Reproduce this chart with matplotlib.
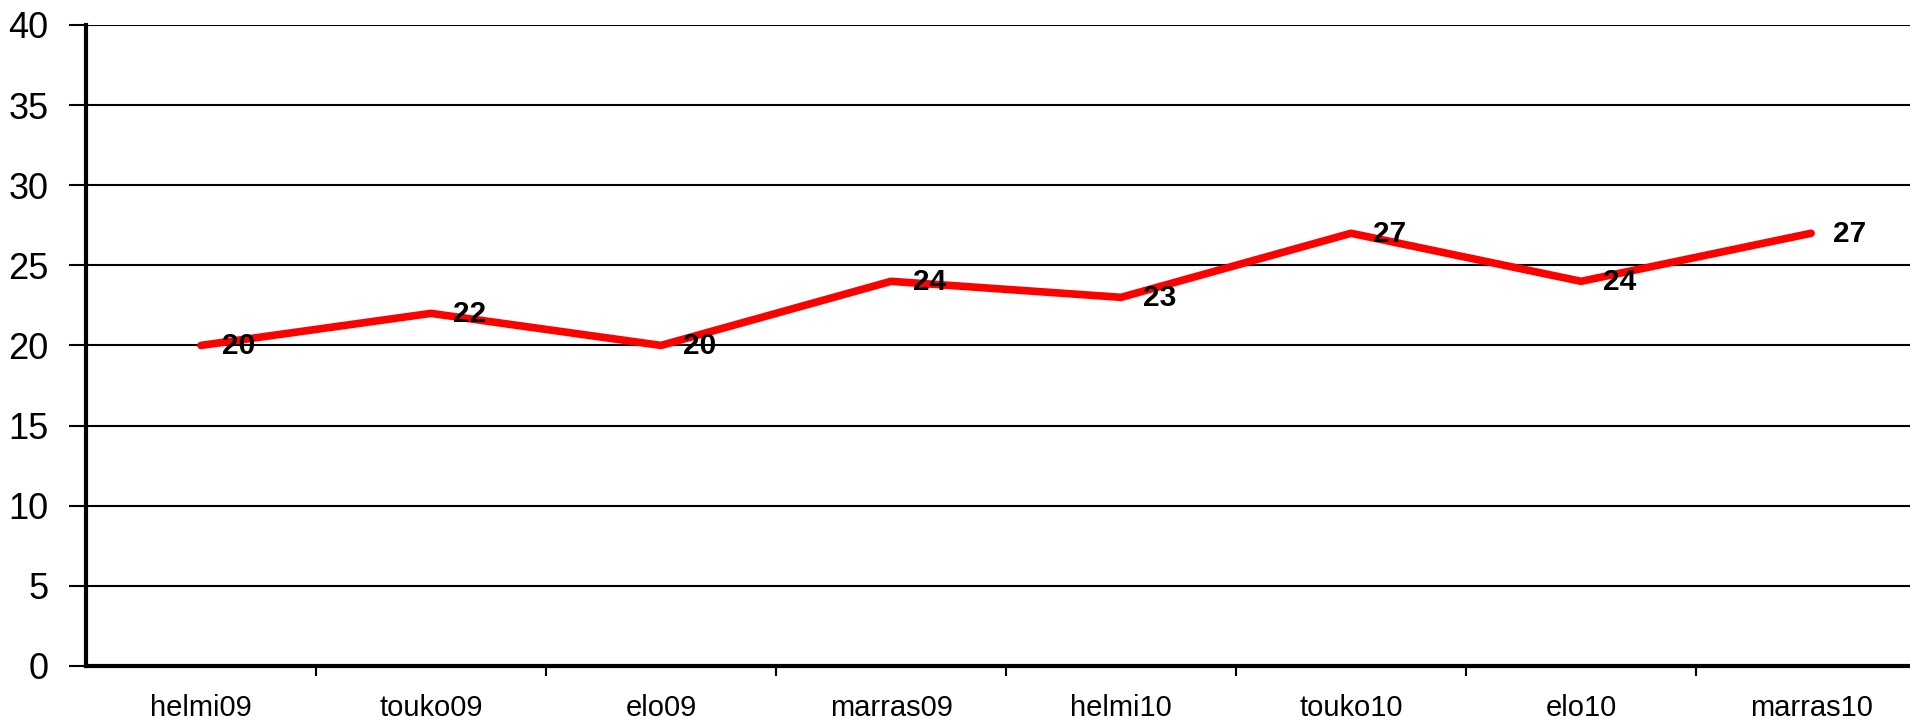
import numpy             as np
import matplotlib.pyplot as plt

months = ["helmi09", "touko09", "elo09", "marras09", "helmi10", "touko10", "elo10", "marras10"]
values = [20, 22, 20, 24, 23, 27, 24, 27]
yticks = [0, 5, 10, 15, 20, 25, 30, 35, 40]

plt.rcParams['font.family'] = ['Liberation Sans', 'DejaVu Sans']

fig = plt.figure(figsize=(19.10, 7.23), dpi=100)
ax = fig.add_axes([0.045, 0.079, 0.955, 0.8865])

x = np.arange(len(months))
ax.plot(x, values, color="#ff0000", lw=5.5, solid_capstyle="round",
        solid_joinstyle="round", zorder=3)
for xi, v in zip(x, values):
    ax.annotate(str(v), (xi, v), xytext=(15.5, -0.5), textcoords="offset points",
                ha="left", va="center", fontsize=21.5, fontweight="bold", zorder=4)

ax.set_ylim(0, 40)
ax.set_xlim(-0.5, 7.43)
ax.set_yticks(yticks)
ax.yaxis.grid(True, color="black", lw=1.5)
ax.set_axisbelow(True)

# ticks between categories, labels at the centres
ax.set_xticks(x[:-1] + 0.5)
ax.set_xticks(x, minor=True)
ax.set_xticklabels(months, minor=True, fontsize=21)
ax.tick_params(axis="x", which="major", length=7, width=1.5, labelbottom=False)
ax.tick_params(axis="x", which="minor", length=0, pad=20)
ax.tick_params(axis="y", length=12, width=1.5, labelsize=26, pad=15)

for s in ["top", "right"]:
    ax.spines[s].set_visible(False)
ax.spines["left"].set_linewidth(3)
ax.spines["bottom"].set_linewidth(3)

fig.savefig("out.png", dpi=100)
